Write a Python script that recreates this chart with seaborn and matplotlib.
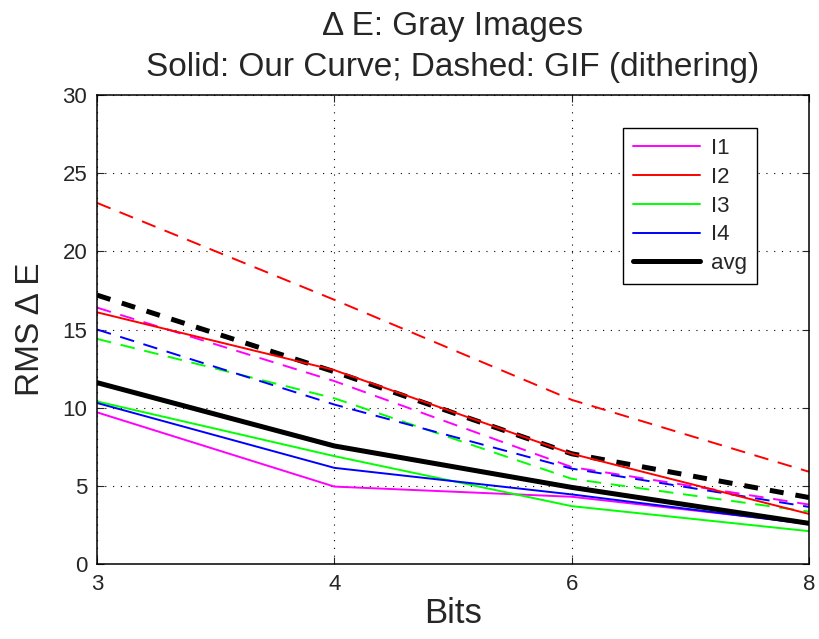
import pandas as pd
import matplotlib
matplotlib.use("Agg")
import matplotlib.pyplot as plt
import seaborn as sns

# data
bits = ["3", "4", "6", "8"]
images = ["I1", "I2", "I3", "I4", "avg"]

ours_i1 = [9.7, 4.95, 4.3, 2.6]
ours_i2 = [16.1, 12.4, 7.05, 3.2]
ours_i3 = [10.4, 6.9, 3.7, 2.1]
ours_i4 = [10.3, 6.15, 4.45, 2.55]
ours_avg = [11.6, 7.55, 4.9, 2.6]

gif_i1 = [16.4, 11.7, 6.2, 3.8]
gif_i2 = [23.1, 16.9, 10.5, 5.9]
gif_i3 = [14.4, 10.6, 5.45, 3.35]
gif_i4 = [15.0, 10.2, 6.1, 3.65]
gif_avg = [17.2, 12.3, 7.05, 4.25]

colors = {"I1": "#ff00ff", "I2": "#ff0000", "I3": "#00ff00", "I4": "#0000ff", "avg": "#000000"}

ours = dict(zip(images, [ours_i1, ours_i2, ours_i3, ours_i4, ours_avg]))
gif = dict(zip(images, [gif_i1, gif_i2, gif_i3, gif_i4, gif_avg]))

rows = []
for name in images:
    for b, v in zip(bits, ours[name]):
        rows.append({"bits": b, "rmse": v, "image": name, "method": "ours"})
    for b, v in zip(bits, gif[name]):
        rows.append({"bits": b, "rmse": v, "image": name, "method": "gif"})
df = pd.DataFrame(rows)

sns.set_style("ticks")
plt.rcParams["font.family"] = ["Liberation Sans", "DejaVu Sans"]

fig = plt.figure(figsize=(8.2, 6.39), dpi=100)
ax = fig.add_axes([0.1183, 0.1174, 0.8683, 0.7339])

# dashed GIF curves first, solid ones on top
for method in ["gif", "ours"]:
    for name in images:
        sub = df[(df["image"] == name) & (df["method"] == method)]
        lw = 3.6 if name == "avg" else 1.4
        sns.lineplot(data=sub, x="bits", y="rmse", color=colors[name],
                     linewidth=lw, ax=ax, legend=False, sort=False)
        ln = ax.lines[-1]
        if method == "gif":
            ln.set_dashes((2.8, 2.4) if name == "avg" else (7.5, 5))
        else:
            ln.set_label(name)

ax.set_xlim(0, 3)
ax.set_ylim(0, 30)
ax.set_yticks(range(0, 31, 5))
ax.grid(True, color="black", linestyle=(0, (1, 6)), linewidth=0.8)
ax.tick_params(direction="in", length=5, labelsize=16, top=True, right=True,
               width=0.8, pad=7)
for s in ax.spines.values():
    s.set_linewidth(1.1)
    s.set_color("black")

ax.set_xlabel("Bits", fontsize=25, labelpad=2)
ax.set_ylabel("RMS \u0394 E", fontsize=24, labelpad=12)
ax.set_title("\u0394 E: Gray Images\nSolid: Our Curve; Dashed: GIF (dithering)",
             fontsize=24, linespacing=1.38, pad=14)

handles = [l for l in ax.lines if l.get_label() in images]
leg = ax.legend(handles=handles, labels=images, loc="upper right",
                bbox_to_anchor=(0.923, 0.7997), bbox_transform=fig.transFigure,
                borderaxespad=0, fontsize=16, handlelength=3.0,
                labelspacing=0.35, fancybox=False, framealpha=1,
                edgecolor="black", borderpad=0.45, handletextpad=0.5)
leg.get_frame().set_linewidth(1.0)

fig.savefig("out.png", dpi=100)
